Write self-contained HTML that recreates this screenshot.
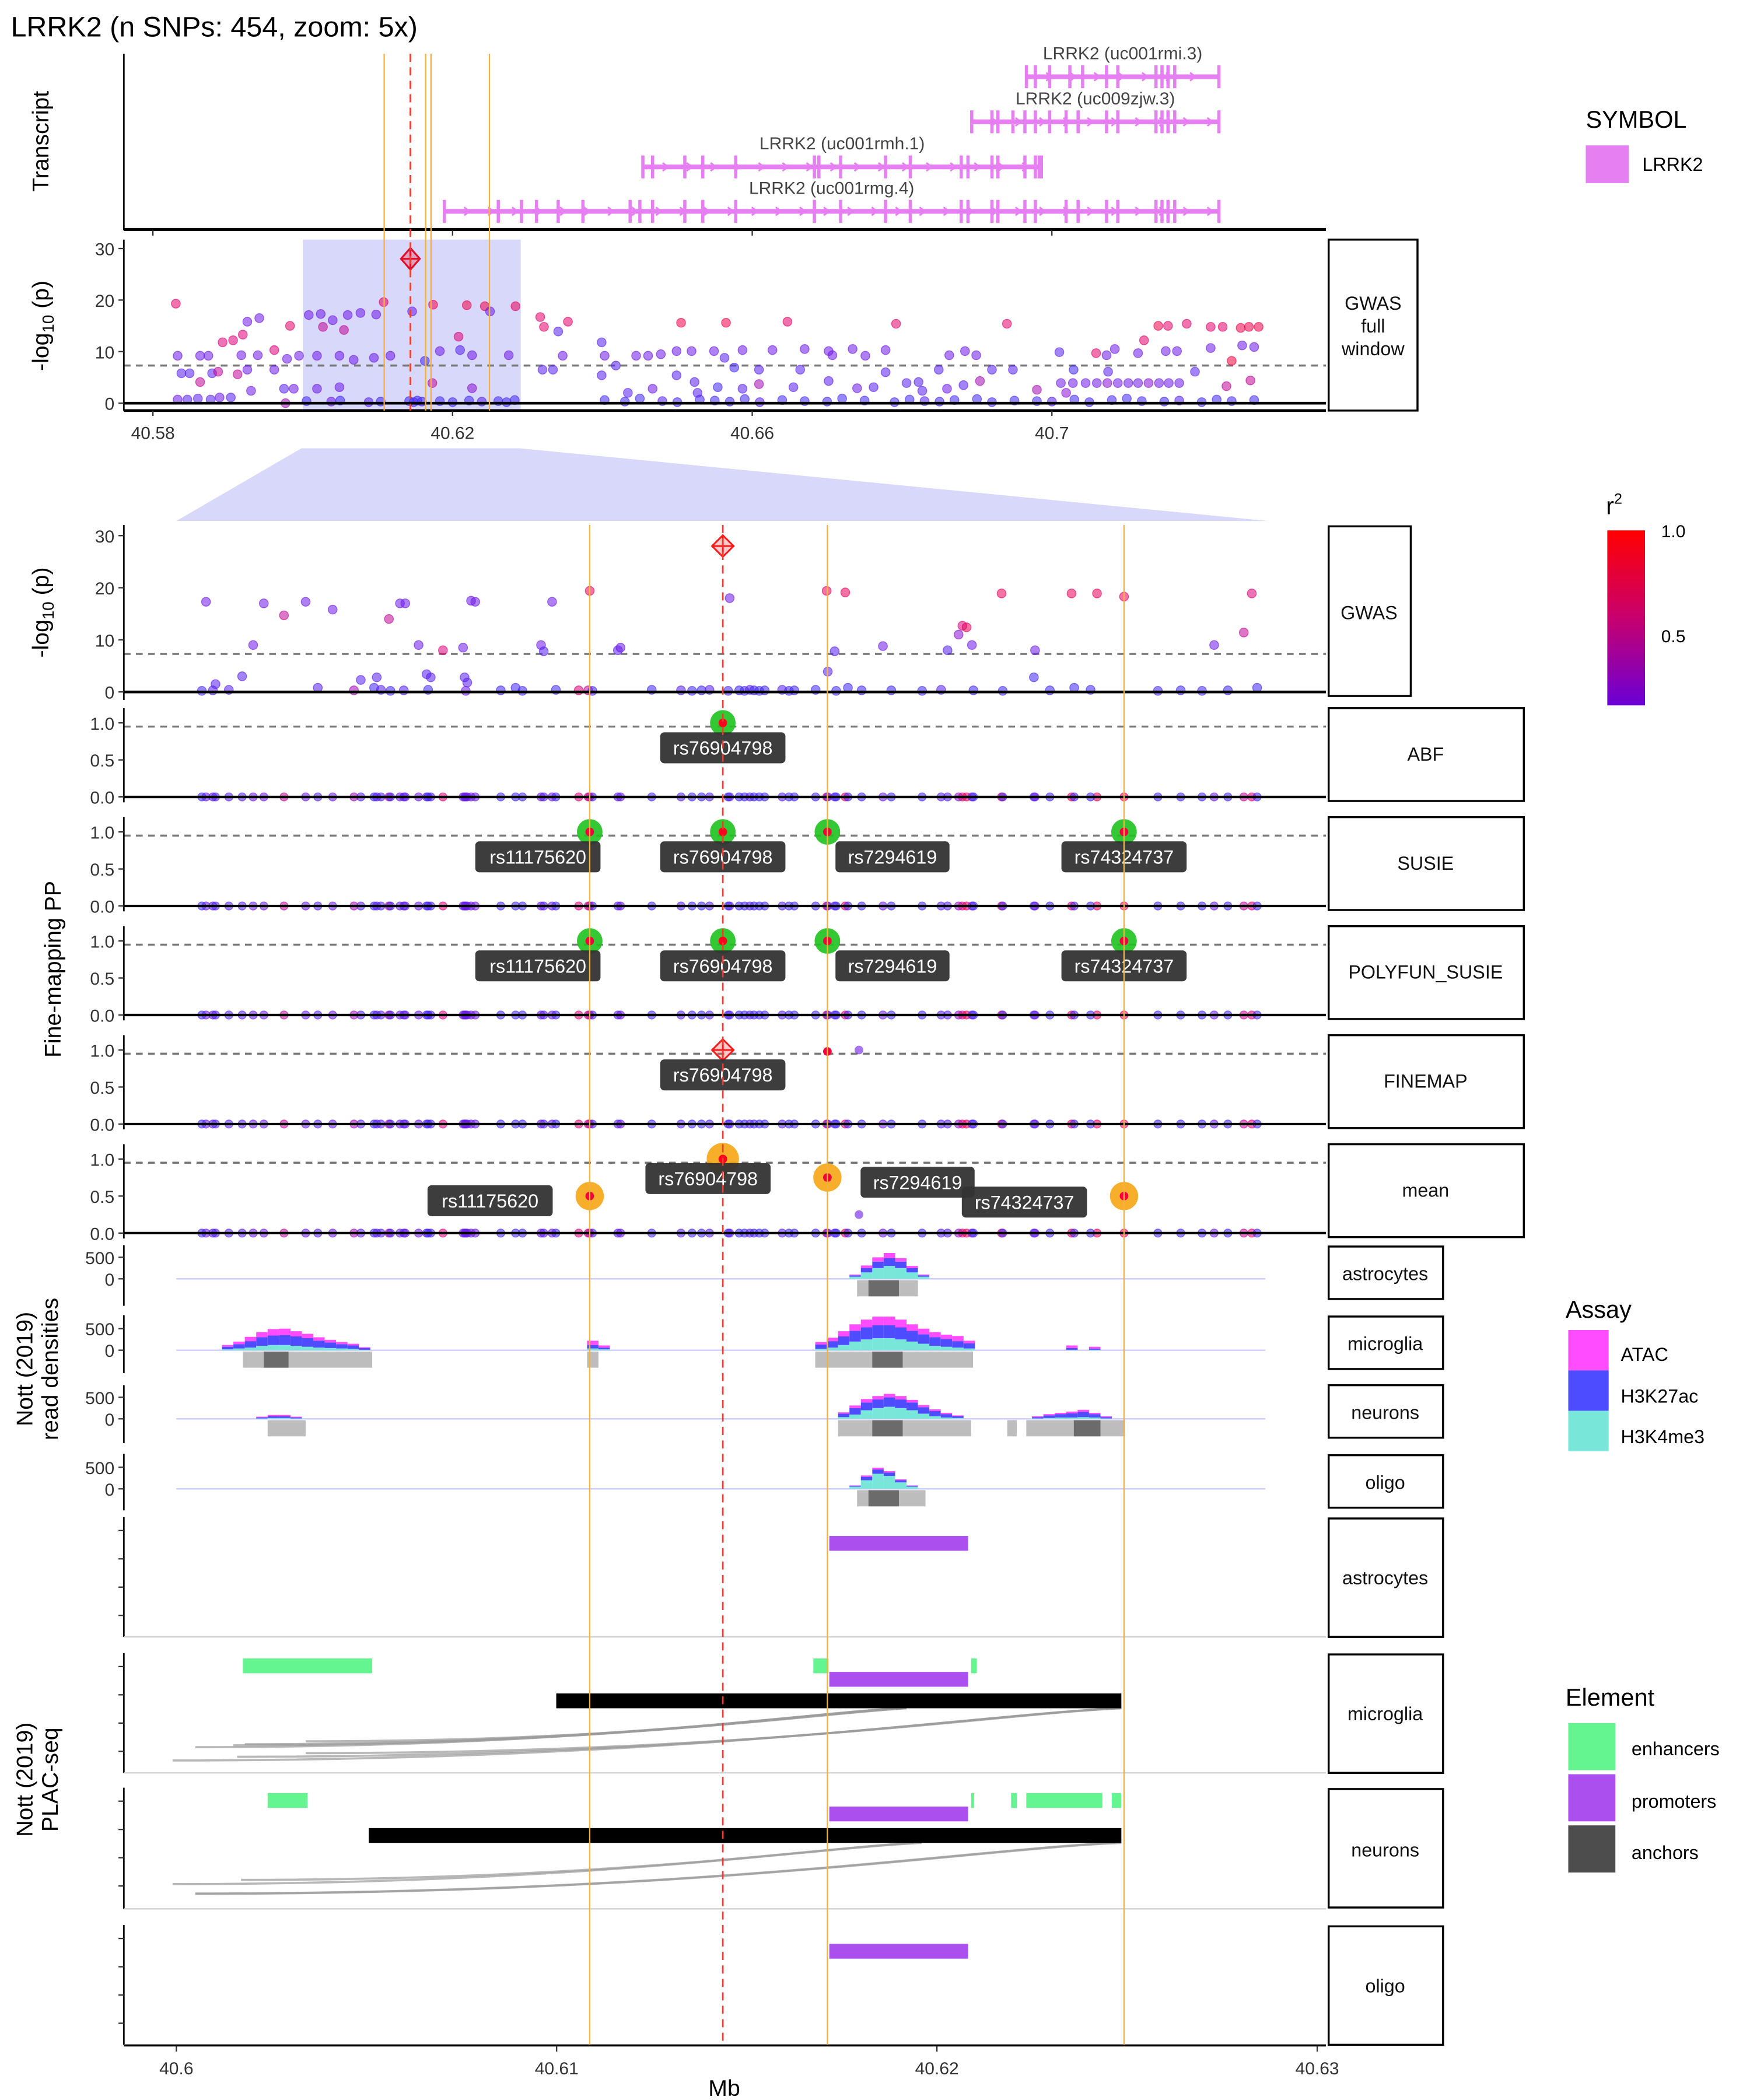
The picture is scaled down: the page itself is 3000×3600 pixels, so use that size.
<!DOCTYPE html>
<html><head><meta charset="utf-8"><style>
html,body{margin:0;padding:0;background:#fff;}
svg{display:block;font-family:"Liberation Sans",Arial,sans-serif;}
</style></head><body>
<svg id="fig" width="3000" height="3600" viewBox="0 0 1300 1560" xmlns="http://www.w3.org/2000/svg">
<rect x="0" y="0" width="1300" height="1560" fill="#fff"/>
<text x="8" y="27" font-size="21" fill="#000">LRRK2 (n SNPs: 454, zoom: 5x)</text>

<text transform="translate(36,105) rotate(-90)" text-anchor="middle" font-size="17">Transcript</text>
<text transform="translate(36,242) rotate(-90)" text-anchor="middle" font-size="17">-log<tspan font-size="12" baseline-shift="-4">10</tspan> (p)</text>
<text transform="translate(36,455) rotate(-90)" text-anchor="middle" font-size="17">-log<tspan font-size="12" baseline-shift="-4">10</tspan> (p)</text>
<text transform="translate(45,720) rotate(-90)" text-anchor="middle" font-size="17">Fine-mapping PP</text>
<text transform="translate(24,1017) rotate(-90)" text-anchor="middle" font-size="17"><tspan x="0" dy="0">Nott (2019)</tspan><tspan x="0" dy="19">read densities</tspan></text>
<text transform="translate(24,1322) rotate(-90)" text-anchor="middle" font-size="17"><tspan x="0" dy="0">Nott (2019)</tspan><tspan x="0" dy="19">PLAC-seq</tspan></text>

<g fill="#fff" stroke="#000" stroke-width="1.5">
<rect x="987" y="178" width="66" height="127"/>
<rect x="987" y="391" width="61" height="126"/>
<rect x="987" y="526" width="145" height="69"/>
<rect x="987" y="607" width="145" height="69"/>
<rect x="987" y="688" width="145" height="69"/>
<rect x="987" y="769" width="145" height="69"/>
<rect x="987" y="850" width="145" height="69"/>
<rect x="987" y="926" width="85" height="39"/>
<rect x="987" y="978" width="85" height="39"/>
<rect x="987" y="1029" width="85" height="39"/>
<rect x="987" y="1081" width="85" height="39"/>
<rect x="987" y="1128" width="85" height="88"/>
<rect x="987" y="1229" width="85" height="88"/>
<rect x="987" y="1329" width="85" height="88"/>
<rect x="987" y="1431" width="85" height="88"/>
</g>
<g font-size="14" text-anchor="middle" fill="#111">
<text x="1020" y="230"><tspan x="1020">GWAS</tspan><tspan x="1020" dy="17">full</tspan><tspan x="1020" dy="17">window</tspan></text>
<text x="1017" y="460">GWAS</text>
<text x="1059" y="565">ABF</text>
<text x="1059" y="646">SUSIE</text>
<text x="1059" y="727">POLYFUN_SUSIE</text>
<text x="1059" y="808">FINEMAP</text>
<text x="1059" y="889">mean</text>
<text x="1029" y="951">astrocytes</text>
<text x="1029" y="1003">microglia</text>
<text x="1029" y="1054">neurons</text>
<text x="1029" y="1106">oligo</text>
<text x="1029" y="1177">astrocytes</text>
<text x="1029" y="1278">microglia</text>
<text x="1029" y="1379">neurons</text>
<text x="1029" y="1480">oligo</text>
</g>

<g>
<text x="1178" y="95" font-size="18">SYMBOL</text>
<rect x="1178" y="108" width="32" height="28" fill="#e67ff2"/>
<text x="1220" y="127" font-size="14">LRRK2</text>
</g>
<defs><linearGradient id="r2g" x1="0" y1="0" x2="0" y2="1">
<stop offset="0" stop-color="#ff0000"/><stop offset="0.5" stop-color="#c8006e"/><stop offset="1" stop-color="#6a00d6"/></linearGradient></defs>
<g>
<text x="1193" y="382" font-size="18">r<tspan font-size="11" baseline-shift="8">2</tspan></text>
<rect x="1194" y="394" width="28" height="130" fill="url(#r2g)"/>
<text x="1234" y="399" font-size="13">1.0</text>
<text x="1234" y="477" font-size="13">0.5</text>
</g>
<g>
<text x="1163" y="979" font-size="18">Assay</text>
<rect x="1165" y="988" width="30" height="30" fill="#ff4cff"/>
<rect x="1165" y="1018" width="30" height="30" fill="#4d4dff"/>
<rect x="1165" y="1048" width="30" height="30" fill="#78e6d8"/>
<text x="1204" y="1011" font-size="14">ATAC</text>
<text x="1204" y="1042" font-size="14">H3K27ac</text>
<text x="1204" y="1072" font-size="14">H3K4me3</text>
</g>
<g>
<text x="1163" y="1267" font-size="18">Element</text>
<rect x="1165" y="1280" width="35" height="35" fill="#64f591"/>
<rect x="1165" y="1318" width="35" height="35" fill="#ab50ef"/>
<rect x="1165" y="1356" width="35" height="35" fill="#4d4d4d"/>
<text x="1212" y="1304" font-size="14">enhancers</text>
<text x="1212" y="1343" font-size="14">promoters</text>
<text x="1212" y="1381" font-size="14">anchors</text>
</g>

<polygon points="224,333 386,333 942,387 131,387" fill="#d8d8fb"/>

<g id="plot"></g>

<text x="538" y="1557" text-anchor="middle" font-size="17">Mb</text>
</svg>
<script>
// ---------------- data ----------------
const topStartMb = 40.58;
const zoomStartMb = 40.6;
const topTicksMb = [40.58, 40.62, 40.66, 40.7];
const topTickLabels = ["40.58", "40.62", "40.66", "40.7"];
const zoomTicksMb = [40.6, 40.61, 40.62, 40.63];
const zoomTickLabels = ["40.6", "40.61", "40.62", "40.63"];
const windowKb = [20.0, 49.1];
const leadKb = 14.37;
const leadTopKb = 34.37;
const consensusKb = [10.87, 17.12, 24.92];

const txNames = ["LRRK2 (uc001rmi.3)", "LRRK2 (uc009zjw.3)", "LRRK2 (uc001rmh.1)", "LRRK2 (uc001rmg.4)"];
const txStartKb = [116.6, 109.3, 65.4, 38.9];
const txEndKb = [142.3, 142.3, 118.6, 142.3];
const txExonsKb = [
 [116.6,117.8,119.7,122.4,124.1,127.3,128.8,133.9,134.7,135.5,136.4,142.3],
 [109.3,112.0,112.8,114.8,116.4,117.8,119.7,121.9,123.5,127.3,128.8,133.9,134.7,135.5,136.4,142.3],
 [65.4,66.7,71.0,73.4,77.8,88.3,88.9,91.8,97.8,101.1,107.9,108.8,112.0,112.8,116.4,117.8,118.3,118.6],
 [38.9,46.1,49.2,51.2,54.1,57.4,63.7,65.0,66.7,71.0,73.4,77.8,88.3,91.8,97.8,101.1,107.9,108.8,112.0,112.8,116.4,117.8,121.9,123.5,127.3,128.8,133.9,134.7,135.5,136.4,142.3]
];

const topKb = [3.06,3.3,3.8,4.9,6.3,7.4,6.3,7.9,8.7,9.3,10.7,12.0,12.6,14.2,11.3,11.8,14.0,12.6,16.2,17.9,18.3,16.2,3.3,4.6,6.0,7.7,8.9,10.4,13.1,17.7,17.5,18.8,19.5,
 20.8,22.4,24.0,26.0,27.7,29.8,22.7,25.5,21.9,24.9,26.8,29.5,31.7,30.8,34.6,37.4,41.9,44.3,45.0,48.4,36.3,38.3,40.8,41.0,42.6,47.5,37.3,42.6,24.9,21.9,
 20.5,23.8,25.0,28.8,30.4,34.2,34.8,35.3,35.9,38.3,40.0,42.2,43.9,46.1,47.2,48.3,
 51.7,52.2,54.1,55.4,54.7,52.0,53.4,59.9,60.3,59.9,61.8,64.5,66.1,67.8,70.5,69.9,71.9,69.9,72.3,74.9,76.5,76.3,77.6,78.7,80.9,82.7,84.7,85.5,87.0,86.4,90.2,90.7,93.4,95.1,97.8,99.2,97.8,100.6,102.2,104.9,106.3,108.4,109.9,110.4,112.0,114.0,114.8,118.0,121.0,122.9,121.9,125.9,127.3,128.4,127.5,132.3,131.5,134.2,135.5,138.0,135.2,136.7,139.1,141.2,142.8,141.2,145.2,146.3,147.6,145.4,147.0,144.0,146.5,143.3,
 121.2,122.8,124.5,126.0,127.4,128.8,130.2,131.5,132.9,134.3,135.6,137.0,
 60.3,63,65,68,70,73,75,77,79,81,84,87,90,92,95,99,101,103,105,107,110,112,115,118,120,123,125,128,130,132,135,137,140,142,144,147,
 63.4,66.7,72.7,75.4,78.7,80.9,90.2,94.0,96.2,102.7,106.0,108.2];
const topLogP = [19.3,9.2,5.8,5.8,9.2,9.2,4.1,5.8,6.1,11.8,12.2,13.3,15.8,16.5,5.6,9.3,9.3,6.5,10.3,8.6,15.0,6.5,0.7,0.7,0.9,0.7,1.1,1.1,2.4,0.0,2.8,2.8,9.2,
 17.1,17.3,16.1,17.1,17.5,17.2,14.8,14.2,9.2,9.2,8.4,8.8,9.2,19.6,17.8,19.1,19.0,18.8,17.8,18.8,8.2,10.1,12.9,10.3,9.3,9.3,3.9,2.9,3.1,2.8,
 0.4,0.3,0.5,0.2,0.3,0.4,0.2,0.5,0.3,0.4,0.2,0.5,0.3,0.4,0.2,0.6,
 16.7,14.8,13.9,15.8,9.2,6.5,6.5,11.8,9.2,5.4,7.3,9.2,9.2,9.5,15.6,10.1,10.1,5.4,4.1,10.1,15.6,8.8,6.9,10.3,6.5,10.3,15.8,3.1,10.5,6.5,10.1,9.3,10.5,9.2,10.3,15.4,6.0,3.9,4.1,6.5,9.3,10.1,9.3,4.3,6.5,15.4,6.5,2.6,9.9,6.5,2.0,9.7,9.3,10.5,6.1,12.2,9.7,15.0,15.0,15.4,10.1,10.1,6.1,14.8,14.8,10.7,14.6,14.8,14.8,11.2,10.9,8.2,4.4,3.3,
 3.9,3.9,3.9,3.9,3.9,3.9,3.9,3.9,3.9,3.9,3.9,3.9,
 0.6,0.3,0.9,0.4,0.2,0.7,0.5,0.3,0.8,0.2,0.6,0.4,0.3,0.9,0.5,0.2,0.7,0.4,0.3,0.6,0.8,0.2,0.5,0.4,0.3,0.7,0.2,0.6,0.9,0.4,0.3,0.5,0.2,0.7,0.4,0.6,
 2.0,2.8,2.0,3.1,2.8,3.7,4.3,2.9,3.1,2.4,2.8,3.5];
const topR2 = [0.75,0.3,0.2,0.2,0.3,0.3,0.6,0.2,0.6,0.7,0.7,0.7,0.3,0.3,0.6,0.3,0.3,0.3,0.7,0.3,0.75,0.3,0.3,0.2,0.2,0.2,0.3,0.2,0.3,0.5,0.2,0.3,0.3,
 0.3,0.3,0.3,0.3,0.3,0.3,0.6,0.6,0.3,0.3,0.3,0.3,0.3,0.8,0.3,0.85,0.85,0.85,0.3,0.8,0.1,0.3,0.7,0.2,0.3,0.3,0.6,0.4,0.3,0.3,
 0.1,0.3,0.1,0.2,0.1,0.1,0.1,0.1,0.1,0.1,0.1,0.1,0.2,0.1,0.1,0.1,
 0.75,0.75,0.2,0.75,0.3,0.2,0.2,0.2,0.3,0.2,0.2,0.3,0.3,0.3,0.85,0.3,0.3,0.2,0.2,0.3,0.85,0.2,0.1,0.3,0.2,0.3,0.75,0.2,0.3,0.2,0.3,0.3,0.3,0.3,0.3,0.75,0.2,0.2,0.2,0.2,0.3,0.3,0.3,0.5,0.2,0.75,0.2,0.5,0.2,0.1,0.4,0.75,0.3,0.3,0.2,0.75,0.3,0.85,0.75,0.75,0.3,0.3,0.2,0.75,0.75,0.3,0.85,0.85,0.85,0.3,0.3,0.9,0.6,0.6,
 0.3,0.3,0.3,0.3,0.4,0.3,0.3,0.3,0.4,0.3,0.3,0.3,
 0.1,0.1,0.1,0.2,0.1,0.1,0.1,0.1,0.1,0.2,0.1,0.1,0.1,0.1,0.1,0.1,0.1,0.2,0.1,0.1,0.1,0.1,0.1,0.1,0.2,0.1,0.1,0.1,0.1,0.1,0.1,0.2,0.1,0.1,0.1,0.1,
 0.2,0.3,0.2,0.1,0.2,0.5,0.2,0.3,0.2,0.2,0.3,0.2];

const zoomKb = [0.78,1.03,2.02,1.73,2.30,2.83,3.40,3.72,4.11,4.85,5.20,5.27,5.59,5.88,6.02,6.37,6.58,6.69,7.01,7.58,7.54,7.65,7.75,7.86,8.92,9.59,9.66,9.88,10.87,11.61,11.68,14.55,17.10,17.59,17.13,17.31,17.66,18.58,20.28,20.57,20.67,20.78,20.92,21.70,22.55,22.58,23.54,24.21,24.92,27.29,28.07,28.28,28.42,23.61,
 10.83,10.94,12.50,13.27,13.56,13.81,14.02,14.51,14.80,14.94,15.08,15.19,15.33,15.47,15.93,16.11,16.25,16.81,17.35,18.02,18.80,19.61,20.11,20.96,21.73,22.97,24.04,25.81,26.41,26.97,27.65,8.53,9.10,9.98,10.58,7.61,6.62,5.98,5.63,4.67,5.38,0.67,0.96,1.38];
const zoomLogP = [17.3,1.5,9,3,17,14.7,17.3,0.8,15.8,2.3,0.8,2.8,14,17,17,9,3.4,2.8,8,2.8,8.5,1.8,17.5,17.3,0.8,9,7.8,17.3,19.4,8,8.5,18,19.4,19.1,3.9,7.8,0.8,8.8,8,11,12.7,12.4,9,18.9,2.8,8,18.9,18.9,18.3,9,11.4,18.9,0.8,0.8,
 0.3,0.2,0.4,0.3,0.2,0.3,0.4,0.2,0.3,0.2,0.4,0.3,0.2,0.3,0.4,0.2,0.3,0.4,0.2,0.3,0.3,0.2,0.4,0.3,0.2,0.3,0.4,0.2,0.3,0.2,0.3,0.3,0.2,0.4,0.3,0.2,0.4,0.3,0.2,0.3,0.4,0.2,0.3,0.4];
const zoomR2 = [0.3,0.2,0.3,0.2,0.3,0.6,0.3,0.2,0.3,0.2,0.1,0.2,0.6,0.3,0.3,0.3,0.2,0.2,0.7,0.2,0.3,0.2,0.3,0.3,0.1,0.3,0.2,0.3,0.8,0.2,0.3,0.3,0.8,0.8,0.2,0.2,0.1,0.3,0.2,0.4,0.7,0.8,0.3,0.8,0.1,0.3,0.8,0.8,0.8,0.3,0.6,0.7,0.1,0.1,
 0.6,0.1,0.1,0.2,0.1,0.1,0.2,0.1,0.1,0.1,0.2,0.1,0.1,0.1,0.2,0.1,0.1,0.1,0.1,0.1,0.1,0.1,0.2,0.1,0.1,0.1,0.1,0.1,0.1,0.1,0.1,0.1,0.1,0.1,0.7,0.3,0.1,0.2,0.1,0.5,0.2,0.1,0.2,0.2];

const credKb = [10.87, 14.37, 17.12, 24.92, 17.95];
const credRsid = ["rs11175620", "rs76904798", "rs7294619", "rs74324737", ""];
const credR2 = [0.9, 1.0, 0.9, 0.9, 0.3];
const ppABF = [0, 1, 0, 0, 0];
const ppSUSIE = [1, 1, 1, 1, 0];
const ppPOLYFUN = [1, 1, 1, 1, 0];
const ppFINEMAP = [0, 1, 0.98, 0, 1.0];
const ppMean = [0.5, 1, 0.75, 0.5, 0.25];

const rdBinKb = {
 astro: [17.7,18.0,18.3,18.6,18.9,19.2,19.5],
 micro: [1.2,1.5,1.8,2.1,2.4,2.7,3.0,3.3,3.6,3.9,4.2,4.5,4.8,10.8,11.1,16.8,17.1,17.4,17.7,18.0,18.3,18.6,18.9,19.2,19.5,19.8,20.1,20.4,20.7,23.4,24.0],
 neuron: [2.1,2.4,2.7,3.0,17.4,17.7,18.0,18.3,18.6,18.9,19.2,19.5,19.8,20.1,20.4,22.5,22.8,23.1,23.4,23.7,24.0,24.3],
 oligo: [17.7,18.0,18.3,18.6,18.9,19.2]
};
const rdH3K4me3 = {
 astro: [50,150,250,300,250,150,50],
 micro: [20,40,60,100,120,120,100,80,60,50,40,30,10,40,20,30,60,120,200,250,280,280,250,200,150,100,80,60,40,10,10],
 neuron: [10,20,20,10,40,100,200,250,280,250,200,120,60,30,20,10,20,30,30,40,30,10],
 oligo: [50,200,350,300,150,50]
};
const rdH3K27ac = {
 astro: [30,100,150,180,150,100,30],
 micro: [60,100,150,200,220,230,220,200,160,130,100,80,40,80,40,100,150,200,250,280,300,300,280,250,220,200,180,150,120,40,30],
 neuron: [20,40,40,20,80,150,180,200,220,200,180,150,120,80,40,30,60,80,100,120,80,30],
 oligo: [20,80,100,80,50,20]
};
const rdATAC = {
 astro: [20,60,100,120,80,50,20],
 micro: [40,60,100,120,150,150,120,100,80,60,50,40,20,100,50,60,80,120,150,180,200,200,180,150,130,120,100,120,60,60,40],
 neuron: [20,30,30,20,30,60,80,80,80,80,60,50,40,30,20,20,30,30,40,50,30,20],
 oligo: [10,30,40,30,20,10]
};
const rdPeakStartKb = {astro:[17.9], micro:[1.75,10.8,16.8], neuron:[2.4,17.4,21.85,22.35], oligo:[17.9]};
const rdPeakEndKb = {astro:[19.5], micro:[5.15,11.1,20.95], neuron:[3.4,20.9,22.1,24.95], oligo:[19.7]};
const rdAnchorStartKb = {astro:[18.2], micro:[2.3,18.3], neuron:[18.3,23.6], oligo:[18.2]};
const rdAnchorEndKb = {astro:[19.0], micro:[2.95,19.1], neuron:[19.1,24.3], oligo:[19.0]};

const enhStartKb = {astro:[], micro:[1.75,16.75,20.9], neuron:[2.4,20.9,21.95,22.35,24.6], oligo:[]};
const enhEndKb = {astro:[], micro:[5.15,17.15,21.05], neuron:[3.45,20.98,22.1,24.35,24.85], oligo:[]};
const promStartKb = {astro:[17.17], micro:[17.17], neuron:[17.17], oligo:[17.17]};
const promEndKb = {astro:[20.82], micro:[20.82], neuron:[20.82], oligo:[20.82]};
const anchorStartKb = {astro:[], micro:[9.99], neuron:[5.06], oligo:[]};
const anchorEndKb = {astro:[], micro:[24.85], neuron:[24.85], oligo:[]};
const loopStartKb = {astro:[], micro:[-0.1,0.5,1.5,1.6,1.8,3.4,3.4], neuron:[-0.1,0.5,0.5,1.7], oligo:[]};
const loopEndKb = {astro:[], micro:[24.85,19.1,19.2,24.8,19.0,19.2,24.85], neuron:[19.6,24.7,24.85,19.4], oligo:[]};

// ---------------- drawing ----------------
const NS = "http://www.w3.org/2000/svg";
const root = document.getElementById("plot");
function mk(tag, attrs, parent) {
  const e = document.createElementNS(NS, tag);
  for (const k in attrs) e.setAttribute(k, attrs[k]);
  (parent || root).appendChild(e);
  return e;
}
const xTop = kb => 113.6 + kb * 5.565;
const xZ = kb => 131 + kb * 28.25;
const X0 = 92, X1 = 985;
function r2col(r) {
  let a, b, t;
  const c0 = [45, 45, 255], c1 = [120, 20, 225], c2 = [220, 0, 120], c3 = [255, 0, 30];
  if (r < 0.35) { a = c0; b = c1; t = r / 0.35; }
  else if (r < 0.7) { a = c1; b = c2; t = (r - 0.35) / 0.35; }
  else { a = c2; b = c3; t = (r - 0.7) / 0.3; }
  return "rgb(" + a.map((v, i) => Math.round(v + (b[i] - v) * t)).join(",") + ")";
}

// ---- Transcript panel ----
{
  const g = mk("g", {});
  
  
  const rowY = [57, 90.5, 124, 157];
  for (let i = 0; i < txNames.length; i++) {
    const y = rowY[i];
    const ln = mk("line", {x1: xTop(txStartKb[i]), x2: xTop(txEndKb[i]), y1: y, y2: y, stroke: "#e67ff2", "stroke-width": 3.5}, g);
    
    
    for (let s = txStartKb[i] + 3; s < txEndKb[i] - 1; s += 3.2) {
      const ar = mk("path", {d: `M${xTop(s)-2},${y-3} L${xTop(s)+2},${y} L${xTop(s)-2},${y+3}`, fill: "none", stroke: "#e67ff2", "stroke-width": 1.3}, g);
      
      
    }
    for (const ex of txExonsKb[i]) {
      const r = mk("rect", {x: xTop(ex) - 1.2, y: y - 8.5, width: 2.4, height: 17, fill: "#e67ff2"}, g);
      
      
    }
    const cx = (xTop(txStartKb[i]) + xTop(txEndKb[i])) / 2;
    const t = mk("text", {x: cx, y: y - 13, "text-anchor": "middle", "font-size": 13, fill: "#444"}, g);
    t.textContent = txNames[i];
    
    
  }
  const ax = mk("line", {x1: X0, x2: X0, y1: 40, y2: 171, stroke: "#000", "stroke-width": 1.2}, g);
  
  
  const bx = mk("line", {x1: X0, x2: X1, y1: 170.5, y2: 170.5, stroke: "#000", "stroke-width": 2.2}, g);
  
  
  for (const tk of topTicksMb) {
    const x = xTop((tk - topStartMb) * 1000);
    const tl = mk("line", {x1: x, x2: x, y1: 171, y2: 175, stroke: "#333", "stroke-width": 1}, g);
    
    
  }
}

// ---- GWAS full window ----
{
  const g = mk("g", {});
  
  
  const yT = v => 299.5 - v * 3.83;
  const sh = mk("rect", {x: xTop(windowKb[0]), y: 178, width: xTop(windowKb[1]) - xTop(windowKb[0]), height: 127, fill: "#d8d8fb"}, g);
  
  
  const dl = mk("line", {x1: X0, x2: X1, y1: yT(7.3), y2: yT(7.3), stroke: "#777", "stroke-width": 1.5, "stroke-dasharray": "5,4"}, g);
  
  
  for (let i = 0; i < topKb.length; i++) {
    const c = mk("circle", {cx: xTop(topKb[i]), cy: yT(topLogP[i]), r: 3.3, fill: r2col(topR2[i]), "fill-opacity": 0.55, stroke: r2col(topR2[i]), "stroke-opacity": 0.6, "stroke-width": 0.6}, g);
    
    
  }
  const zl = mk("line", {x1: X0, x2: X1, y1: yT(0), y2: yT(0), stroke: "#000", "stroke-width": 2}, g);
  
  
  const lx = xTop(leadTopKb), ly = yT(28);
  const dm = mk("path", {d: `M${lx},${ly-8} L${lx+7},${ly} L${lx},${ly+8} L${lx-7},${ly} Z M${lx-7},${ly} L${lx+7},${ly} M${lx},${ly-8} L${lx},${ly+8}`, fill: "rgba(230,60,80,0.35)", stroke: "#e0102a", "stroke-width": 1.4}, g);
  
  
  mk("line", {x1: X0, x2: X0, y1: 178, y2: 305, stroke: "#000", "stroke-width": 1.2}, g);
  const bx = mk("line", {x1: X0, x2: X1, y1: 305, y2: 305, stroke: "#000", "stroke-width": 2}, g);
  
  
  [0, 10, 20, 30].forEach(v => {
    mk("line", {x1: X0 - 4, x2: X0, y1: yT(v), y2: yT(v), stroke: "#333"}, g);
    const t = mk("text", {x: X0 - 7, y: yT(v) + 5, "text-anchor": "end", "font-size": 13, fill: "#333"}, g);
    t.textContent = v;
    
    
  });
  topTicksMb.forEach((tk, i) => {
    const x = xTop((tk - topStartMb) * 1000);
    mk("line", {x1: x, x2: x, y1: 305, y2: 309, stroke: "#333"}, g);
    const t = mk("text", {x: x, y: 326, "text-anchor": "middle", "font-size": 13, fill: "#333"}, g);
    t.textContent = topTickLabels[i];
    
    
  });
}

for (const kb of consensusKb.concat([16.4])) {
  const v = mk("line", {x1: xTop(kb + 20), x2: xTop(kb + 20), y1: 40, y2: 305, stroke: "#f5b23a", "stroke-width": 1});
  
  
}
{
  const v = mk("line", {x1: xTop(leadTopKb), x2: xTop(leadTopKb), y1: 40, y2: 305, stroke: "#e8402a", "stroke-width": 1.2, "stroke-dasharray": "6,4"});
  
  
}

// ---- Zoom GWAS ----
{
  const g = mk("g", {});
  
  
  const yZ = v => 514 - v * 3.87;
  const dl = mk("line", {x1: X0, x2: X1, y1: yZ(7.3), y2: yZ(7.3), stroke: "#777", "stroke-width": 1.5, "stroke-dasharray": "5,4"}, g);
  
  
  for (let i = 0; i < zoomKb.length; i++) {
    const c = mk("circle", {cx: xZ(zoomKb[i]), cy: yZ(zoomLogP[i]), r: 3.3, fill: r2col(zoomR2[i]), "fill-opacity": 0.55, stroke: r2col(zoomR2[i]), "stroke-opacity": 0.6, "stroke-width": 0.6}, g);
    
    
  }
  const lx = xZ(leadKb), ly = yZ(28);
  const dm = mk("path", {d: `M${lx},${ly-8} L${lx+8},${ly} L${lx},${ly+8} L${lx-8},${ly} Z M${lx-8},${ly} L${lx+8},${ly} M${lx},${ly-8} L${lx},${ly+8}`, fill: "rgba(255,80,80,0.3)", stroke: "#ff1a1a", "stroke-width": 1.3}, g);
  
  
  mk("line", {x1: X0, x2: X1, y1: yZ(0), y2: yZ(0), stroke: "#000", "stroke-width": 2}, g);
  mk("line", {x1: X0, x2: X0, y1: 390, y2: 520, stroke: "#000", "stroke-width": 1.2}, g);
  [0, 10, 20, 30].forEach(v => {
    mk("line", {x1: X0 - 4, x2: X0, y1: yZ(v), y2: yZ(v), stroke: "#333"}, g);
    const t = mk("text", {x: X0 - 7, y: yZ(v) + 5, "text-anchor": "end", "font-size": 13, fill: "#333"}, g);
    t.textContent = v;
    
    
  });
}

// ---- Fine-mapping panels ----
const fmPanels = [
  {name: "abf", zero: 592, pp: ppABF, cs: true, labels: [1]},
  {name: "susie", zero: 673, pp: ppSUSIE, cs: true, labels: [0, 1, 2, 3]},
  {name: "polyfun", zero: 754, pp: ppPOLYFUN, cs: true, labels: [0, 1, 2, 3]},
  {name: "finemap", zero: 835, pp: ppFINEMAP, cs: false, labels: [1]},
  {name: "mean", zero: 916, pp: ppMean, cs: false, labels: [0, 1, 2, 3]}
];
const meanLabelOffset = [[-74, -8], [-11, 3], [67, -8], [-74, -7]];
fmPanels.forEach(p => {
  const g = mk("g", {});
  
  
  const yP = v => p.zero - v * 55;
  const dl = mk("line", {x1: X0, x2: X1, y1: yP(0.95), y2: yP(0.95), stroke: "#777", "stroke-width": 1.5, "stroke-dasharray": "5,4"}, g);
  
  
  for (let i = 0; i < zoomKb.length; i++) {
    const c = mk("circle", {cx: xZ(zoomKb[i]), cy: p.zero, r: 3, fill: r2col(zoomR2[i]), "fill-opacity": 0.55, stroke: r2col(zoomR2[i]), "stroke-opacity": 0.6, "stroke-width": 0.6}, g);
    
    
  }
  mk("line", {x1: X0, x2: X1, y1: p.zero, y2: p.zero, stroke: "#000", "stroke-width": 1.8}, g);
  mk("line", {x1: X0, x2: X0, y1: p.zero - 66, y2: p.zero + 4, stroke: "#000", "stroke-width": 1.2}, g);
  for (let i = 0; i < credKb.length; i++) {
    const v = p.pp[i];
    const x = xZ(credKb[i]), y = yP(v);
    if (p.name === "mean" && i < 4) {
      const oc = mk("circle", {cx: x, cy: y, r: i === 1 ? 12 : 10.5, fill: "#f5a514", "fill-opacity": 0.9}, g);
      
      
    } else if (p.cs && v >= 0.95) {
      const gc = mk("circle", {cx: x, cy: y, r: 9.5, fill: "#1ec31e", "fill-opacity": 0.9}, g);
      
      
    }
    if (p.name === "finemap" && i === 1) {
      const dm = mk("path", {d: `M${x},${y-8} L${x+8},${y} L${x},${y+8} L${x-8},${y} Z M${x-8},${y} L${x+8},${y} M${x},${y-8} L${x},${y+8}`, fill: "rgba(255,80,80,0.3)", stroke: "#ff1a1a", "stroke-width": 1.3}, g);
      
      
    } else if (v > 0) {
      const d = mk("circle", {cx: x, cy: y, r: 3.2, fill: r2col(credR2[i]), "fill-opacity": i === 4 ? 0.6 : 1}, g);
      
      
    }
  }
  p.labels.forEach(i => {
    const txt = credRsid[i];
    const w = txt.length * 8.3 + 10;
    let bx, by;
    if (p.name === "mean") { bx = xZ(credKb[i]) + meanLabelOffset[i][0] - w / 2; by = yP(p.pp[i]) + meanLabelOffset[i][1]; }
    else if (i === 0) { bx = xZ(credKb[i]) - w + 8; by = yP(p.pp[i]) + 7; }
    else if (i === 2) { bx = xZ(credKb[i]) + 6; by = yP(p.pp[i]) + 7; }
    else { bx = xZ(credKb[i]) - w / 2; by = yP(p.pp[i]) + 7; }
    const r = mk("rect", {x: bx, y: by, width: w, height: 23, rx: 3, fill: "#333", "fill-opacity": 0.95}, g);
    
    
    const t = mk("text", {x: bx + w / 2, y: by + 16.5, "text-anchor": "middle", "font-size": 14, fill: "#fff"}, g);
    t.textContent = txt;
    
    
  });
  [0, 0.5, 1].forEach(v => {
    mk("line", {x1: X0 - 4, x2: X0, y1: yP(v), y2: yP(v), stroke: "#333"}, g);
    const t = mk("text", {x: X0 - 7, y: yP(v) + 5, "text-anchor": "end", "font-size": 13, fill: "#333"}, g);
    t.textContent = v.toFixed(1);
    
    
  });
});

// ---- Read density panels ----
const rdPanels = [["astro", 950, 925, 970], ["micro", 1003, 977, 1020], ["neuron", 1054, 1029, 1072], ["oligo", 1106, 1080, 1122]];
rdPanels.forEach(([cell, zero, top, bot]) => {
  const g = mk("g", {});
  
  
  const s = 0.032;
  const bw = 0.3 * 28.25;
  mk("line", {x1: 131, x2: 940, y1: zero, y2: zero, stroke: "#c8c8ff", "stroke-width": 1}, g);
  rdPeakStartKb[cell].forEach((st, i) => {
    const r = mk("rect", {x: xZ(st), y: zero + 1, width: xZ(rdPeakEndKb[cell][i]) - xZ(st), height: 12, fill: "#bdbdbd"}, g);
    
    
  });
  rdAnchorStartKb[cell].forEach((st, i) => {
    const r = mk("rect", {x: xZ(st), y: zero + 1, width: xZ(rdAnchorEndKb[cell][i]) - xZ(st), height: 12, fill: "#6b6b6b"}, g);
    
    
  });
  const bins = rdBinKb[cell];
  for (let i = 0; i < bins.length; i++) {
    const h1 = rdH3K4me3[cell][i] * s, h2 = rdH3K27ac[cell][i] * s, h3 = rdATAC[cell][i] * s;
    const x = xZ(bins[i]);
    const a = mk("rect", {x: x, y: zero - h1, width: bw, height: h1, fill: "#78e6d8"}, g);
    
    
    const b = mk("rect", {x: x, y: zero - h1 - h2, width: bw, height: h2, fill: "#4d4dff"}, g);
    
    
    const c = mk("rect", {x: x, y: zero - h1 - h2 - h3, width: bw, height: h3, fill: "#ff4cff"}, g);
    
    
  }
  mk("line", {x1: X0, x2: X0, y1: top, y2: bot, stroke: "#000", "stroke-width": 1.2}, g);
  [[0, "0"], [500, "500"]].forEach(([v, l]) => {
    mk("line", {x1: X0 - 4, x2: X0, y1: zero - v * s, y2: zero - v * s, stroke: "#333"}, g);
    const t = mk("text", {x: X0 - 7, y: zero - v * s + 5, "text-anchor": "end", "font-size": 13, fill: "#333"}, g);
    t.textContent = l;
    
    
  });
});

// ---- PLAC-seq panels ----
const placPanels = [["astro", 1127, 1216], ["micro", 1228, 1317], ["neuron", 1328, 1418], ["oligo", 1430, 1519]];
placPanels.forEach(([cell, top, bot]) => {
  const g = mk("g", {});
  
  
  const enhY = top + 4, promY = top + 14, ancY = top + 30;
  const ancBot = ancY + 11;
  loopStartKb[cell].forEach((st, i) => {
    const x1 = xZ(st), x2 = xZ(loopEndKb[cell][i]);
    const yb = ancBot + (x2 - x1) * 0.055;
    const p = mk("path", {d: `M${x1},${yb} C${x1 + (x2 - x1) * 0.55},${yb} ${x2 - (x2 - x1) * 0.15},${ancBot + 4} ${x2},${ancBot}`, fill: "none", stroke: "#9a9a9a", "stroke-opacity": 0.7, "stroke-width": 1.6}, g);
    
    
  });
  enhStartKb[cell].forEach((st, i) => {
    const r = mk("rect", {x: xZ(st), y: enhY, width: xZ(enhEndKb[cell][i]) - xZ(st), height: 11, fill: "#64f591"}, g);
    
    
  });
  promStartKb[cell].forEach((st, i) => {
    const r = mk("rect", {x: xZ(st), y: promY, width: xZ(promEndKb[cell][i]) - xZ(st), height: 11, fill: "#ab50ef"}, g);
    
    
  });
  anchorStartKb[cell].forEach((st, i) => {
    const r = mk("rect", {x: xZ(st), y: ancY, width: xZ(anchorEndKb[cell][i]) - xZ(st), height: 11, fill: "#000"}, g);
    
    
  });
  mk("line", {x1: X0, x2: X0, y1: top, y2: bot, stroke: "#000", "stroke-width": 1.2}, g);
  mk("line", {x1: X0, x2: X1, y1: bot, y2: bot, stroke: "#d0d0d0", "stroke-width": 1}, g);
  [10, 31, 52, 73].forEach(dy => mk("line", {x1: X0 - 4, x2: X0, y1: top + dy, y2: top + dy, stroke: "#333"}, g));
});

// bottom x axis
{
  const g = mk("g", {});
  
  
  mk("line", {x1: X0, x2: X1, y1: 1519.5, y2: 1519.5, stroke: "#000", "stroke-width": 1.5}, g);
  zoomTicksMb.forEach((tk, i) => {
    const x = xZ((tk - zoomStartMb) * 1000);
    mk("line", {x1: x, x2: x, y1: 1520, y2: 1524, stroke: "#333"}, g);
    const t = mk("text", {x: x, y: 1541, "text-anchor": "middle", "font-size": 13, fill: "#333"}, g);
    t.textContent = zoomTickLabels[i];
    
    
  });
}

for (const kb of consensusKb) {
  const v = mk("line", {x1: xZ(kb), x2: xZ(kb), y1: 390, y2: 1519, stroke: "#f5b23a", "stroke-width": 1});
  
  
}
{
  const v = mk("line", {x1: xZ(leadKb), x2: xZ(leadKb), y1: 390, y2: 1519, stroke: "#e8402a", "stroke-width": 1.2, "stroke-dasharray": "6,4"});
  
  
}
</script>
</body></html>
